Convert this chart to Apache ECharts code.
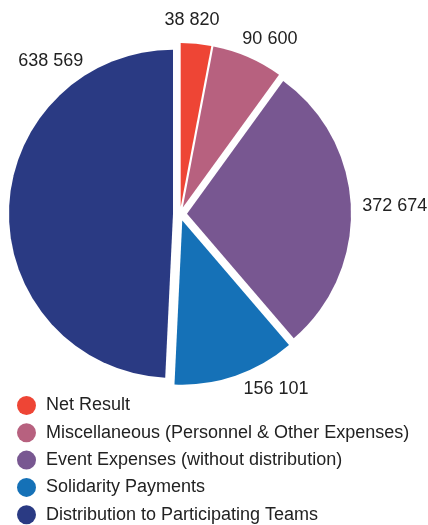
<!DOCTYPE html>
<html>
<head>
<meta charset="utf-8">
<script src="https://cdn.jsdelivr.net/npm/echarts@6/dist/echarts.min.js"></script>
<style>
  html, body { margin: 0; padding: 0; background: #ffffff; }
  #chart { width: 428px; height: 525px; }
</style>
</head>
<body>
<div id="chart"></div>
<script>
// Expense breakdown, slices drawn clockwise from 12 o'clock
const categories = [
  'Net Result',
  'Miscellaneous (Personnel & Other Expenses)',
  'Event Expenses (without distribution)',
  'Solidarity Payments',
  'Distribution to Participating Teams'
];
const values = [38820, 90600, 372674, 156101, 638569];
const colors = ['#EE4535', '#B7617F', '#785791', '#1571B7', '#2A3A83'];

// Value label placement around the pie: angle (degrees clockwise from top) and distance from centre
const labelAngles = [3.5, 27, 87.6, 151, 320];
const labelDistances = [196, 198, 215, 198, 201];

const CENTER = [180, 214];
const RADIUS = 164;
const FONT = '"Liberation Sans", Arial, Helvetica, sans-serif';

function fmt(v) {
  return String(v).replace(/\B(?=(\d{3})+(?!\d))/g, ' ');
}

// Value labels placed as free text around the pie
const valueLabels = values.map((v, i) => {
  const a = labelAngles[i] * Math.PI / 180;
  return {
    type: 'text',
    x: CENTER[0] + labelDistances[i] * Math.sin(a),
    y: CENTER[1] - labelDistances[i] * Math.cos(a) + 1.5,
    style: {
      text: fmt(v),
      fontFamily: FONT,
      fontSize: 18,
      fill: '#222222',
      align: 'center',
      verticalAlign: 'middle'
    },
    silent: true
  };
});

const chart = echarts.init(document.getElementById('chart'), null, { renderer: 'canvas' });

chart.setOption({
  animation: false,
  legend: {
    orient: 'vertical',
    left: 17,
    top: 396,
    padding: 0,
    icon: 'circle',
    itemWidth: 19,
    itemHeight: 19,
    itemGap: 8.3,
    selectedMode: false,
    textStyle: {
      fontFamily: FONT,
      fontSize: 18,
      color: '#222222',
      padding: [0, 0, 0, 5]
    },
    data: categories
  },
  graphic: valueLabels,
  series: [{
    type: 'pie',
    center: CENTER,
    radius: RADIUS,
    startAngle: 90,
    clockwise: true,
    selectedMode: 'multiple',
    selectedOffset: 7,
    emphasis: { disabled: true },
    label: { show: false },
    labelLine: { show: false },
    data: categories.map((name, i) => ({
      name: name,
      value: values[i],
      selected: true,
      itemStyle: { color: colors[i] }
    }))
  }]
});
</script>
</body>
</html>
